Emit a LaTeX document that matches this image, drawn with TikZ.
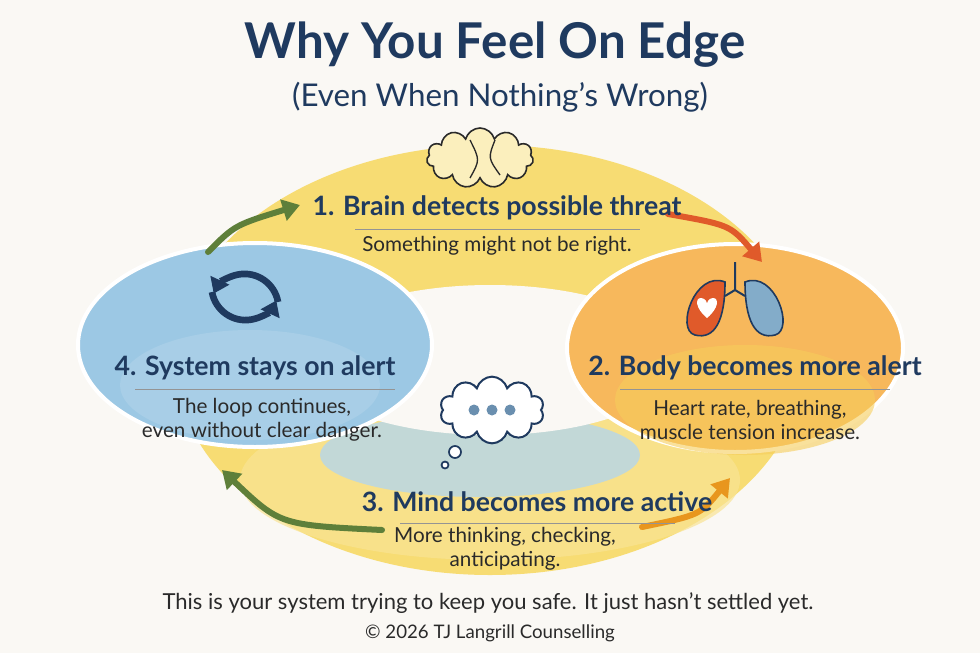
\documentclass[tikz,border=0pt]{standalone}
\usepackage{fontspec}
\setmainfont{Lato}
\usetikzlibrary{arrows.meta,shapes.geometric,shapes.symbols}
\definecolor{navy}{HTML}{1F3A5F}
\definecolor{ink}{HTML}{2A2A2A}
\definecolor{yel}{HTML}{F6D65A}
\definecolor{blu}{HTML}{9CC8E4}
\definecolor{org}{HTML}{F7B85C}
\definecolor{grn}{HTML}{5E7F3A}
\definecolor{redo}{HTML}{E05A2A}
\definecolor{orarr}{HTML}{E8961E}
\definecolor{paper}{HTML}{FAF8F4}
\tikzset{
 head/.style={font=\bfseries\fontsize{20}{24}\selectfont, text=navy},
 body/.style={font=\fontsize{15.5}{18}\selectfont, text=ink, align=center},
 arr/.style={line width=4.5pt, -{Triangle[length=13pt,width=16pt]}, line cap=round},
}
\begin{document}
\begin{tikzpicture}[x=0.75pt,y=-0.75pt]
\useasboundingbox (0,0) rectangle (980,653);
\fill[paper] (0,0) rectangle (980,653);
% yellow ring
\fill[yel!85] (490,360) ellipse [x radius=315, y radius=215];
\fill[yel!65, opacity=0.7] (490,480) ellipse [x radius=250, y radius=80];
\fill[blu!75, opacity=0.8] (480,455) ellipse [x radius=160, y radius=42];
\fill[paper] (490,360) ellipse [x radius=190, y radius=75];
% side ellipses
\fill[blu, draw=white, line width=3pt] (255,345) ellipse [x radius=177, y radius=102];
\fill[blu!80!white, opacity=0.6] (250,385) ellipse [x radius=130, y radius=55];
\fill[org, draw=white, line width=3pt] (735,348) ellipse [x radius=168, y radius=104];
\fill[yel!70!org, opacity=0.6] (745,400) ellipse [x radius=130, y radius=55];
% arrows
\coordinate (a1s) at (208,252); \coordinate (a1e) at (300,205);
\coordinate (a2s) at (668,214); \coordinate (a2e) at (762,262);
\coordinate (a3s) at (642,527); \coordinate (a3e) at (730,478);
\coordinate (a4s) at (382,530); \coordinate (a4e) at (222,470);
\draw[arr, grn] (a1s) .. controls (235,225) .. (a1e);
\draw[arr, redo] (a2s) .. controls (730,225) .. (a2e);
\draw[arr, orarr] (a3s) .. controls (700,515) .. (a3e);
\draw[arr, grn] (a4s) .. controls (280,525) .. (a4e);
% title
\node[font=\bfseries\fontsize{37}{42}\selectfont, text=navy] (title) at (495,45) {Why You Feel On Edge};
\node[font=\fontsize{23.5}{28}\selectfont, text=navy] (sub) at (500,97) {(Even When Nothing’s Wrong)};
% brain icon
\node[cloud, cloud puffs=11, aspect=1.7, draw=ink, fill=yel!40, line width=1.2pt, minimum width=80pt, minimum height=45pt] (brain) at (480,158) {};
\draw[ink, line width=1pt] (470,140) .. controls (480,160) .. (470,178) (495,140) .. controls (488,158) .. (500,175);
% step 1
\node[head] (h1) at (497,208) {1. Brain detects possible threat};
\draw[ink!50] (355,229) -- (640,229);
\node[body] (b1) at (497,246) {Something might not be right.};
% lungs icon
\fill[blu!80!navy, draw=navy, line width=1.2pt] (745,282) .. controls (775,270) and (795,330) .. (775,335) .. controls (755,340) and (745,320) .. (745,282) -- cycle;
\fill[redo, draw=navy, line width=1.2pt] (725,282) .. controls (695,270) and (675,330) .. (695,335) .. controls (715,340) and (725,320) .. (725,282) -- cycle;
\draw[navy, line width=1.5pt] (735,262) -- (735,290) (735,290) -- (725,296) (735,290) -- (745,296);
\fill[white] (707,318) .. controls (695,308) and (695,298) .. (701,298) .. controls (705,298) and (707,302) .. (707,304) .. controls (707,302) and (709,298) .. (713,298) .. controls (719,298) and (719,308) .. (707,318) -- cycle;
% step 2
\node[head] (h2) at (755,368) {2. Body becomes more alert};
\draw[ink!50] (620,389) -- (890,389);
\node[body] (b2) at (750,420) {Heart rate, breathing,\\muscle tension increase.};
% cycle icon
\draw[navy, line width=5pt, -{Triangle[length=11pt,width=15pt]}] (212,292) arc[start angle=170, end angle=25, radius=34];
\draw[navy, line width=5pt, -{Triangle[length=11pt,width=15pt]}] (278,302) arc[start angle=-10, end angle=-155, radius=34];
% step 4
\node[head] (h4) at (255,368) {4. System stays on alert};
\draw[ink!50] (135,389) -- (395,389);
\node[body] (b4) at (262,420) {The loop continues,\\even without clear danger.};
% thought bubble
\node[cloud, cloud puffs=10, aspect=1.6, draw=navy, fill=white, line width=1.5pt, minimum width=78pt, minimum height=50pt] (bubble) at (492,410) {};
\foreach \x in {474,492,510} \fill[blu!60!navy] (\x,410) circle (5.5);
\draw[navy, fill=white, line width=1.3pt] (455,452) circle (6) (445,465) circle (3.5);
% step 3
\node[head] (h3) at (537,502) {3. Mind becomes more active};
\draw[ink!50] (400,523) -- (675,523);
\node[body] (b3) at (505,549) {More thinking, checking,\\anticipating.};
% footer
\node[font=\fontsize{16.5}{20}\selectfont, text=ink] (foot) at (488,603) {This is your system trying to keep you safe. It just hasn’t settled yet.};
\node[font=\fontsize{14}{17}\selectfont, text=ink] (copy) at (490,633) {© 2026 TJ Langrill Counselling};
\end{tikzpicture}
\end{document}
